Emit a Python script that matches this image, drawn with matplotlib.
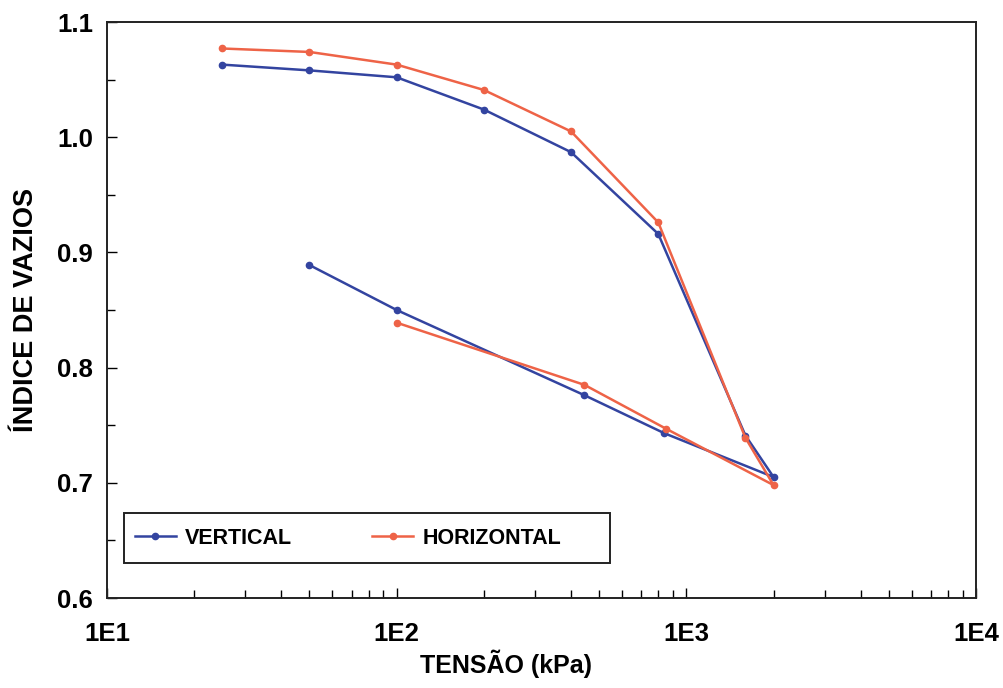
import matplotlib
matplotlib.use("Agg")
import matplotlib.pyplot as plt
from matplotlib.patches import Rectangle
from matplotlib.ticker import FixedLocator, LogLocator, NullFormatter, FixedFormatter, MultipleLocator

# Consolidation curves: void ratio vs. stress (loading then unloading)
vert_stress = [25, 50, 100, 200, 400, 800, 1600, 2000, 840, 445, 100, 50]
vert_void = [1.063, 1.058, 1.052, 1.024, 0.987, 0.916, 0.741, 0.705, 0.743, 0.776, 0.850, 0.889]

horiz_stress = [25, 50, 100, 200, 400, 800, 1600, 2000, 850, 445, 100]
horiz_void = [1.077, 1.074, 1.063, 1.041, 1.005, 0.926, 0.739, 0.698, 0.747, 0.785, 0.839]

x_ticks = [10, 100, 1000, 10000]
x_tick_labels = ["1E1", "1E2", "1E3", "1E4"]
y_ticks = [0.6, 0.7, 0.8, 0.9, 1.0, 1.1]

blue = "#3344a0"
red = "#ee6347"

plt.rcParams["font.family"] = ["Liberation Sans", "DejaVu Sans"]

fig = plt.figure(figsize=(10.04, 6.88), dpi=100)
ax = fig.add_axes([107 / 1004, 1 - 598 / 688, (976 - 107) / 1004, (598 - 22) / 688])

ax.plot(vert_stress, vert_void, color=blue, lw=1.8, marker="o", ms=4.5, label="VERTICAL")
ax.plot(horiz_stress, horiz_void, color=red, lw=1.8, marker="o", ms=4.5, label="HORIZONTAL")

ax.set_xscale("log")
ax.set_xlim(10, 10000)
ax.set_ylim(0.6, 1.1)

ax.xaxis.set_major_locator(FixedLocator(x_ticks))
ax.xaxis.set_major_formatter(FixedFormatter(x_tick_labels))
ax.xaxis.set_minor_locator(LogLocator(base=10, subs=range(2, 10)))
ax.xaxis.set_minor_formatter(NullFormatter())
ax.yaxis.set_major_locator(FixedLocator(y_ticks))
ax.yaxis.set_minor_locator(MultipleLocator(0.05))
ax.set_yticklabels([f"{v:.1f}" for v in y_ticks])

ax.tick_params(which="both", direction="in", top=False, right=False, width=1.0)
ax.tick_params(which="major", length=7, labelsize=18.5)
ax.tick_params(which="minor", length=6)
ax.tick_params(axis="y", which="major", pad=10)
ax.tick_params(axis="x", which="major", pad=17)
for lab in ax.get_xticklabels() + ax.get_yticklabels():
    lab.set_fontweight("bold")

for s in ax.spines.values():
    s.set_linewidth(1.4)
    s.set_color("#222222")

ax.set_xlabel("TENSÃO (kPa)", fontsize=18, fontweight="bold", labelpad=3)
ax.xaxis.label.set_x(0.459)
ax.set_ylabel("ÍNDICE DE VAZIOS", fontsize=19.5, fontweight="bold", labelpad=13)

# Legend entries without a frame, boxed by a separate rectangle
leg = ax.legend(loc="center left", bbox_to_anchor=(17 / 869, 60 / 576), borderaxespad=0,
                ncol=2, frameon=False,
                prop={"weight": "bold", "size": 15.5}, columnspacing=3.7,
                handlelength=1.9, handletextpad=0.45, borderpad=0.5, markerscale=1.0)
box = Rectangle((17 / 869, 35 / 576), (610 - 124) / 869, 50 / 576,
                transform=ax.transAxes, fill=False, edgecolor="#222222", lw=1.4, zorder=5)
ax.add_patch(box)

fig.savefig("out.png", dpi=100)
